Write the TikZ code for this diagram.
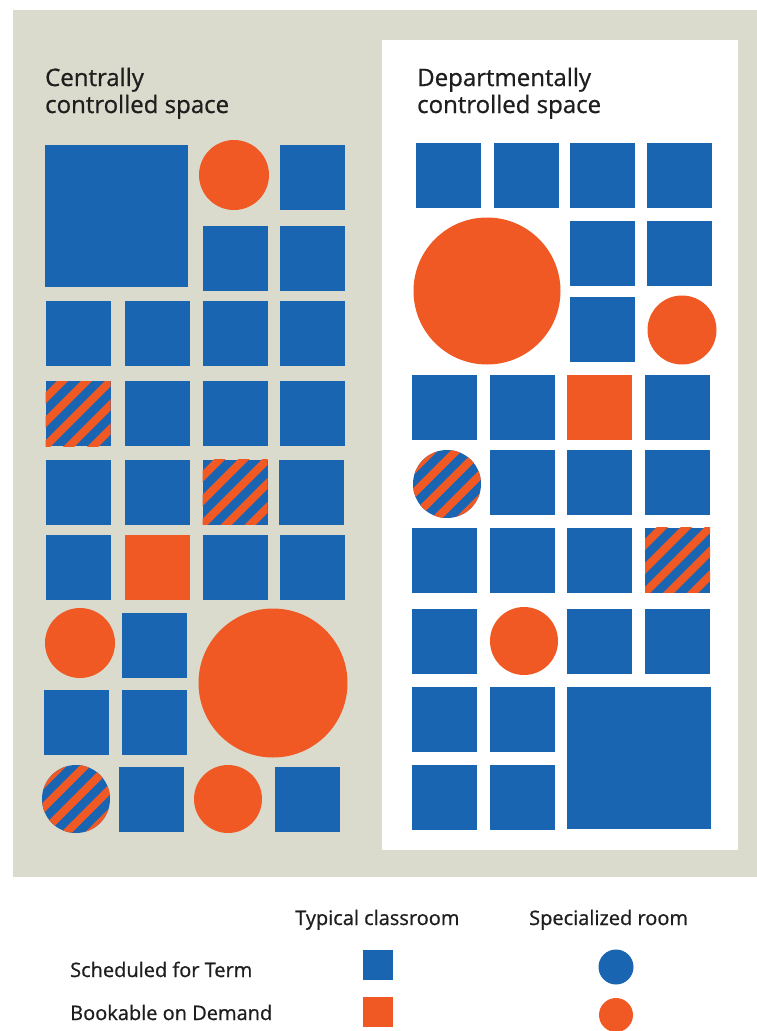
\documentclass[tikz,border=0pt]{standalone}
\usepackage{fontspec}
\setmainfont[FakeBold=0.8]{Open Sans}
\usetikzlibrary{positioning}
\definecolor{roomblue}{RGB}{26,101,178}
\definecolor{roomorange}{RGB}{240,88,36}
\definecolor{panelbeige}{RGB}{219,219,205}
\definecolor{inkgray}{RGB}{30,30,30}
\tikzset{
room/.style={rectangle,fill=roomblue,inner sep=0pt,minimum size=65pt},
spec/.style={circle,fill=roomorange,inner sep=0pt,minimum size=68pt},
booked/.style={fill=roomorange},
mixed/.style={fill=roomblue,path picture={
  \foreach \k in {-5,...,5}
    \draw[roomorange,line width=8pt] (path picture bounding box.center)
      ++(\k*24pt,0pt) ++(-70pt,-70pt) -- ++(140pt,140pt);}},
title/.style={anchor=base west,inner sep=0pt,text=inkgray,
  font=\fontsize{24}{27}\selectfont},
key/.style={anchor=base west,inner sep=0pt,text=inkgray,
  font=\fontsize{20}{22}\selectfont}
}
\begin{document}
\begin{tikzpicture}[x=1pt,y=-1pt]
\useasboundingbox (0,0) rectangle (757,1031);
\fill[panelbeige] (13,10) rectangle (757,877);
\fill[white] (382,40) rectangle (738,850);
% centrally controlled space
\node[title] (Lt1) at (45,86) {Centrally};
\node[title] (Lt2) at (45,113) {controlled space};
\node[room,minimum width=143pt,minimum height=142pt] (L1) at (116.5,216) {};
\node[spec,minimum size=70pt] (L2) at (234,175) {};
\node[room] (L3) at (312.5,177.5) {};
\node[room] (L4) at (235,258) {};
\node[room] (L5) at (312.5,258) {};
\node[room] (L6) at (78,333.5) {};
\node[room] (L7) at (157,333.5) {};
\node[room] (L8) at (235,333.5) {};
\node[room] (L9) at (312.5,333.5) {};
\node[room,mixed] (L10) at (78,413.5) {};
\node[room] (L11) at (157,413.5) {};
\node[room] (L12) at (235,413.5) {};
\node[room] (L13) at (312.5,413.5) {};
\node[room] (L14) at (78,492) {};
\node[room] (L15) at (157,492) {};
\node[room,mixed] (L16) at (235,492) {};
\node[room] (L17) at (311,492) {};
\node[room] (L18) at (78,567) {};
\node[room,booked] (L19) at (157,567) {};
\node[room] (L20) at (235,567) {};
\node[room] (L21) at (312.5,567) {};
\node[spec,minimum size=70pt] (L22) at (80,643) {};
\node[room] (L23) at (154.5,645) {};
\node[spec,minimum size=149pt] (L24) at (273,683) {};
\node[room] (L25) at (76,722) {};
\node[room] (L26) at (154.5,722) {};
\node[spec,mixed] (L27) at (76,799) {};
\node[room] (L28) at (151.5,799.5) {};
\node[spec] (L29) at (228,799) {};
\node[room] (L30) at (307.5,799.5) {};
% departmentally controlled space
\node[title] (Rt1) at (417,86) {Departmentally};
\node[title] (Rt2) at (417,113) {controlled space};
\node[room] (R1) at (448,175) {};
\node[room] (R2) at (526.5,175) {};
\node[room] (R3) at (602,175) {};
\node[room] (R4) at (679.5,175) {};
\node[room] (R5) at (602,253) {};
\node[room] (R6) at (679,253) {};
\node[spec,minimum size=147pt] (R7) at (487,291) {};
\node[room] (R8) at (602,329) {};
\node[spec,minimum size=69pt] (R9) at (682,330) {};
\node[room] (R10) at (444,407.5) {};
\node[room] (R11) at (522,407.5) {};
\node[room,booked] (R12) at (599.5,407.5) {};
\node[room] (R13) at (677.5,407.5) {};
\node[spec,mixed] (R14) at (447,484) {};
\node[room] (R15) at (522,482.5) {};
\node[room] (R16) at (599.5,482.5) {};
\node[room] (R17) at (677.5,482.5) {};
\node[room] (R18) at (444,560) {};
\node[room] (R19) at (522,560) {};
\node[room] (R20) at (599.5,560) {};
\node[room,mixed] (R21) at (677.5,560) {};
\node[room] (R22) at (444,641) {};
\node[spec] (R23) at (524,641) {};
\node[room] (R24) at (599.5,641) {};
\node[room] (R25) at (677.5,641) {};
\node[room] (R26) at (444,719) {};
\node[room] (R27) at (522,719) {};
\node[room,minimum width=144pt,minimum height=142pt] (R28) at (639,758) {};
\node[room] (R29) at (444,797) {};
\node[room] (R30) at (522,797) {};
% legend
\node[key] (Ktyp) at (295,925) {Typical classroom};
\node[key] (Kspec) at (529,925) {Specialized room};
\node[key] (Kterm) at (70,977) {Scheduled for Term};
\node[key] (Kdem) at (70,1020) {Bookable on Demand};
\node[room,minimum size=30pt] (K1) at (378,965) {};
\node[room,booked,minimum size=30pt] (K2) at (378,1012) {};
\node[spec,fill=roomblue,minimum size=35pt] (K3) at (616,967) {};
\node[spec,minimum size=34pt] (K4) at (616,1015) {};
\end{tikzpicture}
\end{document}
